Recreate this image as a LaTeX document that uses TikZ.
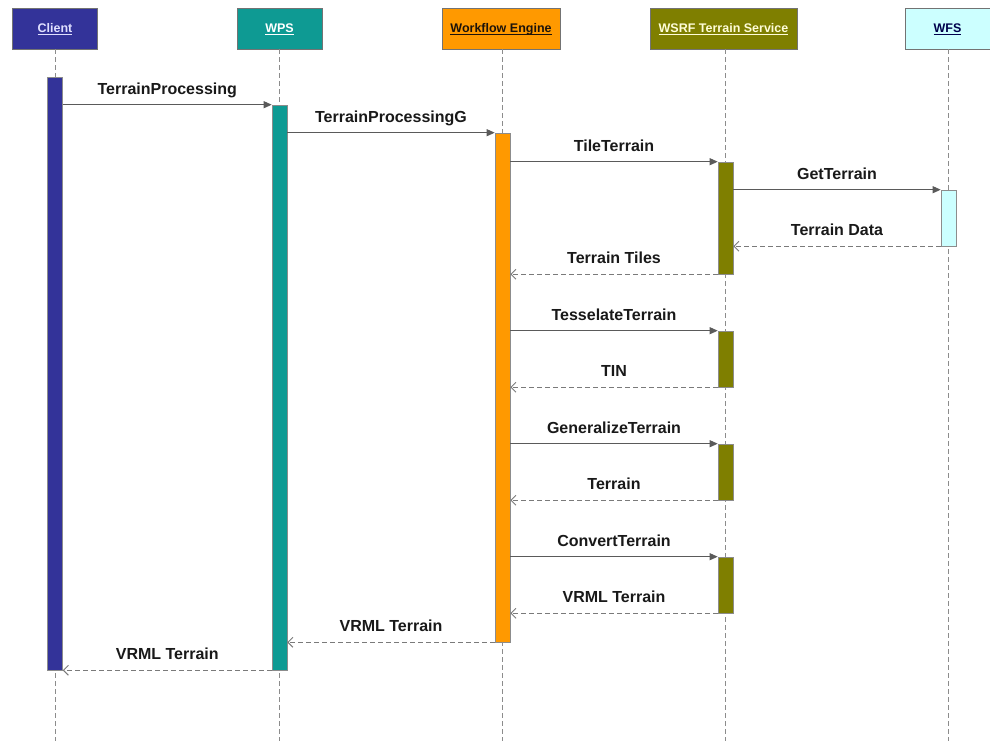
\documentclass[tikz,border=0pt]{standalone}
\usepackage{fontspec}
\setmainfont{Liberation Sans}
\usetikzlibrary{arrows.meta}
\definecolor{cClient}{HTML}{333399}
\definecolor{cWPS}{HTML}{0E9A93}
\definecolor{cWE}{HTML}{FF9900}
\definecolor{cWSRF}{HTML}{7F7F00}
\definecolor{cWFS}{HTML}{CCFFFF}
\definecolor{lineg}{HTML}{5A5A5A}
\definecolor{dashg}{HTML}{7A7A7A}
\newcommand\hdtext[1]{\underline{\smash{#1}}}
\tikzset{
  x=1pt, y=-1pt,
  head/.style={draw=black!55, line width=0.8pt, minimum width=#1, minimum height=41pt, inner sep=0pt, text height=9pt, text depth=0pt, font=\fontsize{12.5}{14}\selectfont\bfseries},
  act/.style={draw=black!45, line width=0.6pt, minimum width=15pt, inner sep=0pt},
  life/.style={draw=black!45, line width=0.9pt, dash pattern=on 5pt off 3pt},
  callmsg/.style={draw=lineg, line width=0.9pt, -{Triangle[length=8pt,width=7pt]}},
  retmsg/.style={draw=dashg, line width=0.9pt, dash pattern=on 5pt off 3pt, -{Straight Barb[length=5pt,width=10pt]}},
  lbl/.style={midway, anchor=base, yshift=10.5pt, inner sep=0pt, font=\fontsize{16}{18}\selectfont\bfseries, text=black!90}
}
\begin{document}
\begin{tikzpicture}
\useasboundingbox (0,0) rectangle (990,741);
% headers
\node[head=85pt, fill=cClient, text=white!88!blue] (hC) at (55,28.5) {\hdtext{Client}};
\node[head=85pt, fill=cWPS, text=white] (hW) at (279.5,28.5) {\hdtext{WPS}};
\node[head=118pt, fill=cWE, text=black!85!brown] (hE) at (501,28.5) {\hdtext{Workflow Engine}};
\node[head=147pt, fill=cWSRF, text=yellow!15] (hS) at (723.5,28.5) {\hdtext{WSRF Terrain Service}};
\node[head=85pt, fill=cWFS, text=blue!30!black] (hF) at (947.5,28.5) {\hdtext{WFS}};
% lifeline ends
\coordinate (eC) at (55,741);
\coordinate (eW) at (279.5,741);
\coordinate (eE) at (502.5,741);
\coordinate (eS) at (725.5,741);
\coordinate (eF) at (948.5,741);
\draw[life] (hC.south) -- (eC);
\draw[life] (hW.south) -- (eW);
\draw[life] (hE.south -| eE) -- (eE);
\draw[life] (hS.south -| eS) -- (eS);
\draw[life] (hF.south -| eF) -- (eF);
% activations
\node[act, fill=cClient, minimum height=593pt] (aC) at (55,373.5) {};
\node[act, fill=cWPS, minimum height=565pt] (aW) at (279.5,387.5) {};
\node[act, fill=cWE, minimum height=509pt] (aE) at (502.5,387.5) {};
\node[act, fill=cWSRF, minimum height=112pt] (aS1) at (725.5,218) {};
\node[act, fill=cWSRF, minimum height=56pt] (aS2) at (725.5,359) {};
\node[act, fill=cWSRF, minimum height=56pt] (aS3) at (725.5,472) {};
\node[act, fill=cWSRF, minimum height=56pt] (aS4) at (725.5,585) {};
\node[act, fill=cWFS, minimum height=56pt] (aF) at (948.5,218) {};
% messages
\draw[callmsg] (aC.east |- aW.north) -- (aW.north west) node[lbl] {TerrainProcessing};
\draw[callmsg] (aW.east |- aE.north) -- (aE.north west) node[lbl] {TerrainProcessingG};
\draw[callmsg] (aE.east |- aS1.north) -- (aS1.north west) node[lbl] {TileTerrain};
\draw[callmsg] (aS1.east |- aF.north) -- (aF.north west) node[lbl] {GetTerrain};
\draw[retmsg] (aF.south west) -- (aS1.east |- aF.south) node[lbl] {Terrain Data};
\draw[retmsg] (aS1.south west) -- (aE.east |- aS1.south) node[lbl] {Terrain Tiles};
\draw[callmsg] (aE.east |- aS2.north) -- (aS2.north west) node[lbl] {TesselateTerrain};
\draw[retmsg] (aS2.south west) -- (aE.east |- aS2.south) node[lbl] {TIN};
\draw[callmsg] (aE.east |- aS3.north) -- (aS3.north west) node[lbl] {GeneralizeTerrain};
\draw[retmsg] (aS3.south west) -- (aE.east |- aS3.south) node[lbl] {Terrain};
\draw[callmsg] (aE.east |- aS4.north) -- (aS4.north west) node[lbl] {ConvertTerrain};
\draw[retmsg] (aS4.south west) -- (aE.east |- aS4.south) node[lbl] {VRML Terrain};
\draw[retmsg] (aE.south west) -- (aW.east |- aE.south) node[lbl] {VRML Terrain};
\draw[retmsg] (aW.south west) -- (aC.east |- aW.south) node[lbl] {VRML Terrain};
\end{tikzpicture}
\end{document}
